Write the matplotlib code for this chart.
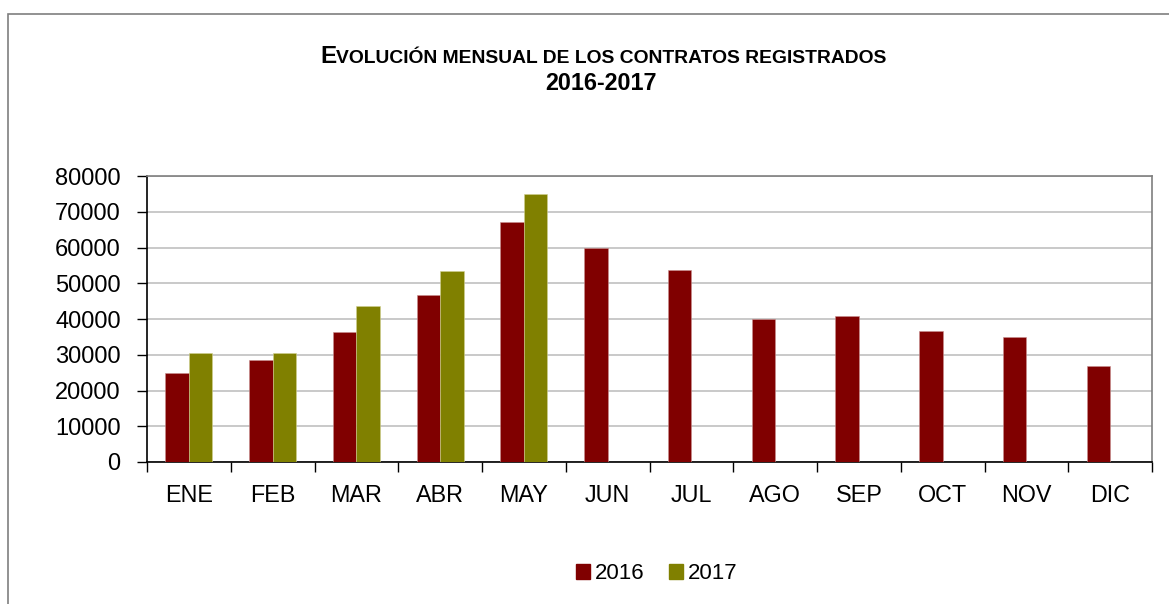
#!/usr/bin/env python3
import numpy as np
import matplotlib
matplotlib.use("Agg")
import matplotlib.pyplot as plt
from matplotlib.patches import Rectangle, Patch

plt.rcParams['font.family'] = ['Liberation Sans', 'DejaVu Sans']

# =========================================================
# Data
# =========================================================
months = ["ENE", "FEB", "MAR", "ABR", "MAY", "JUN",
          "JUL", "AGO", "SEP", "OCT", "NOV", "DIC"]
contratos_2016 = [24800, 28400, 36400, 46700, 67100, 59900,
                  53600, 39900, 40900, 36600, 35100, 26800]
contratos_2017 = [30600, 30500, 43600, 53500, 75100]
yticks = [0, 10000, 20000, 30000, 40000, 50000, 60000, 70000, 80000]

c2016 = "#800000"
c2017 = "#808000"

W, H = 1169, 604

# =========================================================
# Figure
# =========================================================
fig = plt.figure(figsize=(W / 100, H / 100), dpi=100)
ax = fig.add_axes([0.1258, 0.2351, 0.8597, 0.4735])

# outer chart border (runs off the right/bottom of the image)
fig.add_artist(Rectangle((0.0068, -0.2), 1.3, 0.9768 + 0.2,
                         transform=fig.transFigure, fill=False,
                         edgecolor="#7f7f7f", linewidth=1.2))

x = np.arange(len(months))
w = 0.28
ax.bar(x[:len(contratos_2016)] - w / 2, contratos_2016, width=w,
       color=c2016, edgecolor="#c89090", linewidth=0.4, zorder=3)
ax.bar(x[:len(contratos_2017)] + w / 2, contratos_2017, width=w,
       color=c2017, edgecolor="#d0d090", linewidth=0.4, zorder=3)

ax.set_xlim(-0.5, len(months) - 0.5)
ax.set_ylim(0, 80000)
ax.set_yticks(yticks)
ax.set_yticklabels([str(v) for v in yticks], fontsize=17)
ax.yaxis.grid(True, color="#c0c0c0", linewidth=1.2, zorder=0)
ax.set_axisbelow(True)

ax.set_xticks(x)
ax.set_xticklabels(months, fontsize=16.8)
ax.set_xticks(np.arange(-0.5, len(months)), minor=True)
ax.tick_params(axis="x", which="major", length=0, pad=16)
ax.tick_params(axis="x", which="minor", length=7, width=1, direction="out")
ax.tick_params(axis="y", length=7, width=1, direction="out", pad=12)

for s in ["left", "bottom"]:
    ax.spines[s].set_color("black")
    ax.spines[s].set_linewidth(1.2)
for s in ["top", "right"]:
    ax.spines[s].set_color("#7f7f7f")
    ax.spines[s].set_linewidth(1.2)

# =========================================================
# Title (small caps look: big E, smaller capitals)
# =========================================================
y1 = 1 - 63 / H
t_e = fig.text(0, y1, "E", fontsize=17.5, fontweight="bold", va="baseline")
t_rest = fig.text(0, y1, "VOLUCIÓN MENSUAL DE LOS CONTRATOS REGISTRADOS",
                  fontsize=13.9, fontweight="bold", va="baseline")
fig.canvas.draw()
r = fig.canvas.get_renderer()
we = t_e.get_window_extent(r).width
wr = t_rest.get_window_extent(r).width
x0 = 603.5 - (we + wr) / 2
t_e.set_x(x0 / W)
t_rest.set_x((x0 + we) / W)

fig.text(601 / W, 1 - 90 / H, "2016-2017", fontsize=16.8,
         fontweight="bold", ha="center", va="baseline")

# =========================================================
# Legend
# =========================================================
handles = [Patch(facecolor=c2016, edgecolor=c2016),
           Patch(facecolor=c2017, edgecolor=c2017)]
fig.legend(handles, ["2016", "2017"], loc="center",
           bbox_to_anchor=(0.562, 0.05), ncol=2, frameon=False,
           fontsize=16, handlelength=0.6, handleheight=0.6,
           handletextpad=0.25, columnspacing=1.1)

plt.savefig("out.png", dpi=100)
plt.close()
